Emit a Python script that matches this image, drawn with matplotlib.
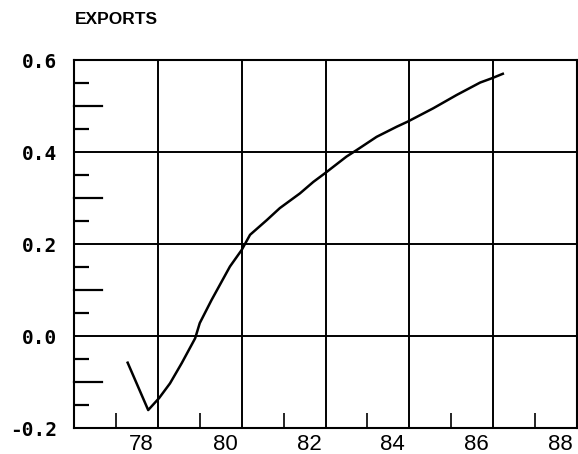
import numpy as np
import matplotlib
matplotlib.use('Agg')
import matplotlib.pyplot as plt
import matplotlib.transforms as mtrans

# EXPORTS curve (year, value)
years = [77.28, 77.77, 78.03, 78.29, 78.57, 78.89, 79.00, 79.28, 79.72, 80.00,
         80.20, 80.60, 80.91, 81.39, 81.71, 81.99, 82.50, 82.74, 83.22, 83.70,
         83.96, 84.57, 85.13, 85.69, 85.96, 86.23]
exports = [-0.058, -0.161, -0.135, -0.103, -0.059, -0.005, 0.028, 0.078, 0.151, 0.187,
           0.220, 0.252, 0.278, 0.310, 0.335, 0.354, 0.390, 0.404, 0.433, 0.455,
           0.466, 0.495, 0.524, 0.551, 0.560, 0.570]

x_ticks = [78, 80, 82, 84, 86, 88]
x_labels = ['78', '80', '82', '84', '86', '88']
x_grid = [78, 80, 82, 84, 86]
x_minor = [77, 79, 81, 83, 85, 87]
y_ticks = [-0.2, 0.0, 0.2, 0.4, 0.6]
y_labels = ['-0.2', '0.0', '0.2', '0.4', '0.6']
y_grid = [0.0, 0.2, 0.4]
y_long = [-0.1, 0.1, 0.3, 0.5]
y_short = [-0.15, -0.05, 0.05, 0.15, 0.25, 0.35, 0.45, 0.55]

fig = plt.figure(figsize=(5.78, 4.54), dpi=100)
ax = fig.add_axes([74/578, 1-428/454, 503/578, 368/454])

ax.plot(years, exports, color='black', lw=1.8, solid_joinstyle='round')

for g in x_grid:
    ax.axvline(g, color='black', lw=1.4, zorder=1)
for g in y_grid:
    ax.axhline(g, color='black', lw=1.4, zorder=1)

ax.set_xlim(76, 88)
ax.set_ylim(-0.2, 0.6)

# x axis: labels sit just left of the grid lines, small ticks in between
ax.set_xticks(x_ticks)
ax.set_xticklabels(x_labels, family='Liberation Sans', fontsize=16)
ax.set_xticks(x_minor, minor=True)
ax.tick_params(axis='x', which='major', length=0, pad=4)
ax.tick_params(axis='x', which='minor', direction='in', length=10.5, width=1.2)
off = mtrans.ScaledTranslation(-3/72, 0, fig.dpi_scale_trans)
for lab in ax.get_xticklabels():
    lab.set_horizontalalignment('right')
    lab.set_transform(lab.get_transform() + off)

# y axis: labels at grid values, long/short inward ticks between
ax.set_yticks(y_ticks)
ax.set_yticklabels(y_labels, family='DejaVu Sans Mono', fontsize=14, fontweight='bold')
ax.tick_params(axis='y', which='major', length=0, pad=12)
ax.set_yticks(y_short, minor=True)
ax.tick_params(axis='y', which='minor', direction='in', length=10.5, width=1.6)
for v in y_long:
    ax.plot([76, 76 + 12 * 28/503], [v, v], color='black', lw=1.6, clip_on=False)

for s in ax.spines.values():
    s.set_linewidth(1.5)

fig.text(75/578, 1-20/454, 'EXPORTS', family='Liberation Sans', fontsize=12.5,
         fontweight='bold', va='center', ha='left')

plt.savefig('out.png', dpi=100)
